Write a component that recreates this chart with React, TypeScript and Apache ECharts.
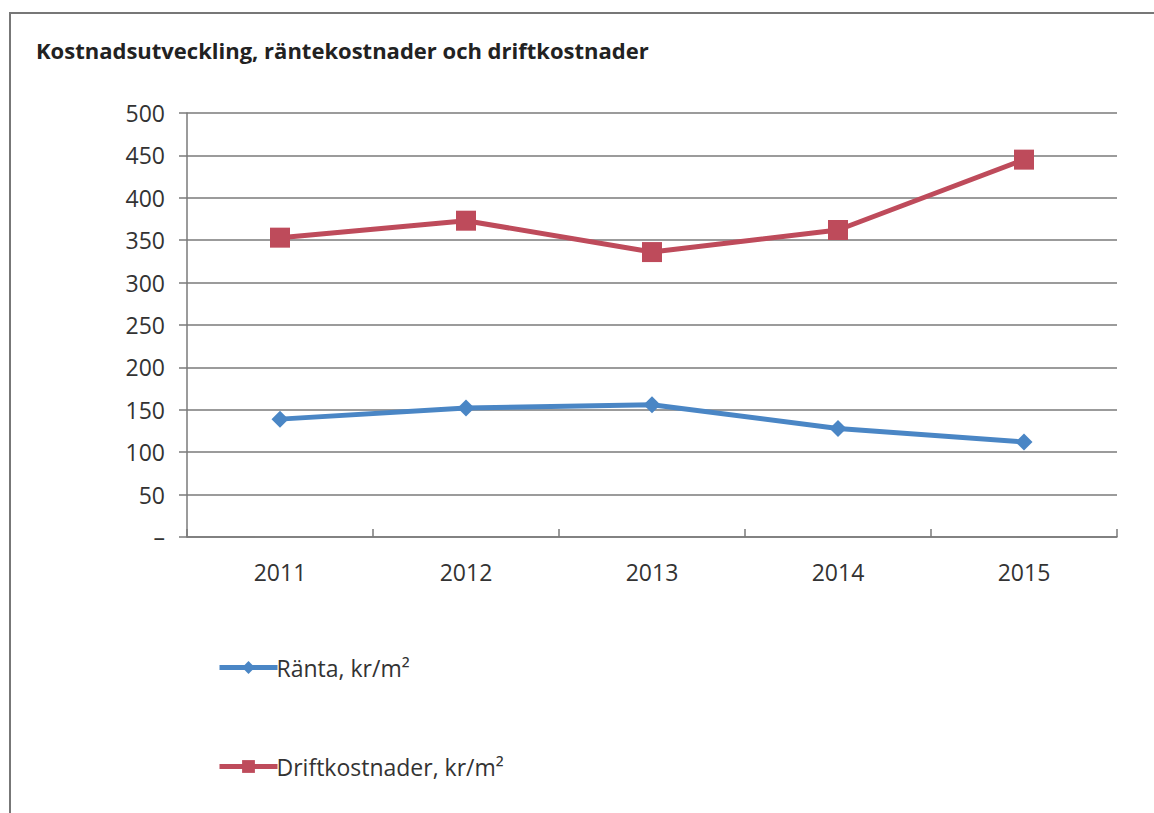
import React, { useEffect, useRef } from "react";
import * as echarts from "echarts";

const years = ["2011", "2012", "2013", "2014", "2015"];
const ranta = [139, 152, 156, 128, 112];
const drift = [353, 373, 336, 362, 445];
const titleText = "Kostnadsutveckling, räntekostnader och driftkostnader";
const seriesNames = ["Ränta, kr/m²", "Driftkostnader, kr/m²"];

export default function App() {
  const ref = useRef<HTMLDivElement>(null);
  useEffect(() => {
    const chart = echarts.init(ref.current!, null, { renderer: "svg" });
    const font = "'Open Sans', Lato, sans-serif";
    chart.setOption({
      animation: false,
      backgroundColor: "#ffffff",
      textStyle: { fontFamily: font },
      title: {
        text: titleText,
        left: 31,
        top: 34,
        textStyle: { fontSize: 22, fontWeight: "bold", color: "#222", fontFamily: font },
      },
      graphic: [
        {
          type: "rect",
          shape: { x: 10, y: 13, width: 1300, height: 900 },
          style: { fill: "none", stroke: "#777", lineWidth: 2 },
          silent: true,
        },
      ],
      legend: {
        orient: "vertical",
        left: 212,
        top: 651,
        itemGap: 76,
        itemWidth: 58,
        itemHeight: 16,
        lineStyle: { width: 5 },
        textStyle: { fontSize: 23, color: "#333", fontFamily: font, padding: [0, 0, 0, -6] },
        data: seriesNames,
      },
      grid: { left: 187, right: 37, top: 113, bottom: 276 },
      xAxis: {
        type: "category",
        data: years,
        boundaryGap: true,
        axisLine: { lineStyle: { color: "#7a7a7a", width: 1.5 } },
        axisTick: { show: true, inside: true, length: 8, alignWithLabel: false, lineStyle: { color: "#7a7a7a", width: 1.5 } },
        axisLabel: { fontSize: 23, color: "#333", margin: 23, fontFamily: font },
      },
      yAxis: {
        type: "value",
        min: 0,
        max: 500,
        interval: 50,
        axisLine: { show: true, lineStyle: { color: "#7a7a7a", width: 1.5 } },
        axisTick: { show: true, length: 8, lineStyle: { color: "#7a7a7a", width: 1.5 } },
        axisLabel: {
          fontSize: 23,
          color: "#333",
          margin: 22,
          fontFamily: font,
          formatter: (v: number) => (v === 0 ? "–" : String(v)),
        },
        splitLine: { lineStyle: { color: "#7a7a7a", width: 1.5 } },
      },
      series: [
        {
          name: seriesNames[0],
          type: "line",
          data: ranta,
          symbol: "diamond",
          symbolSize: 17,
          itemStyle: { color: "#4A86C5" },
          lineStyle: { color: "#4A86C5", width: 5 },
        },
        {
          name: seriesNames[1],
          type: "line",
          data: drift,
          symbol: "rect",
          symbolSize: 20,
          itemStyle: { color: "#BE4B5B" },
          lineStyle: { color: "#BE4B5B", width: 5 },
        },
      ],
    });
    return () => chart.dispose();
  }, []);
  return <div ref={ref} style={{ width: 1154, height: 813, position: "absolute", left: 0, top: 0 }} />;
}
